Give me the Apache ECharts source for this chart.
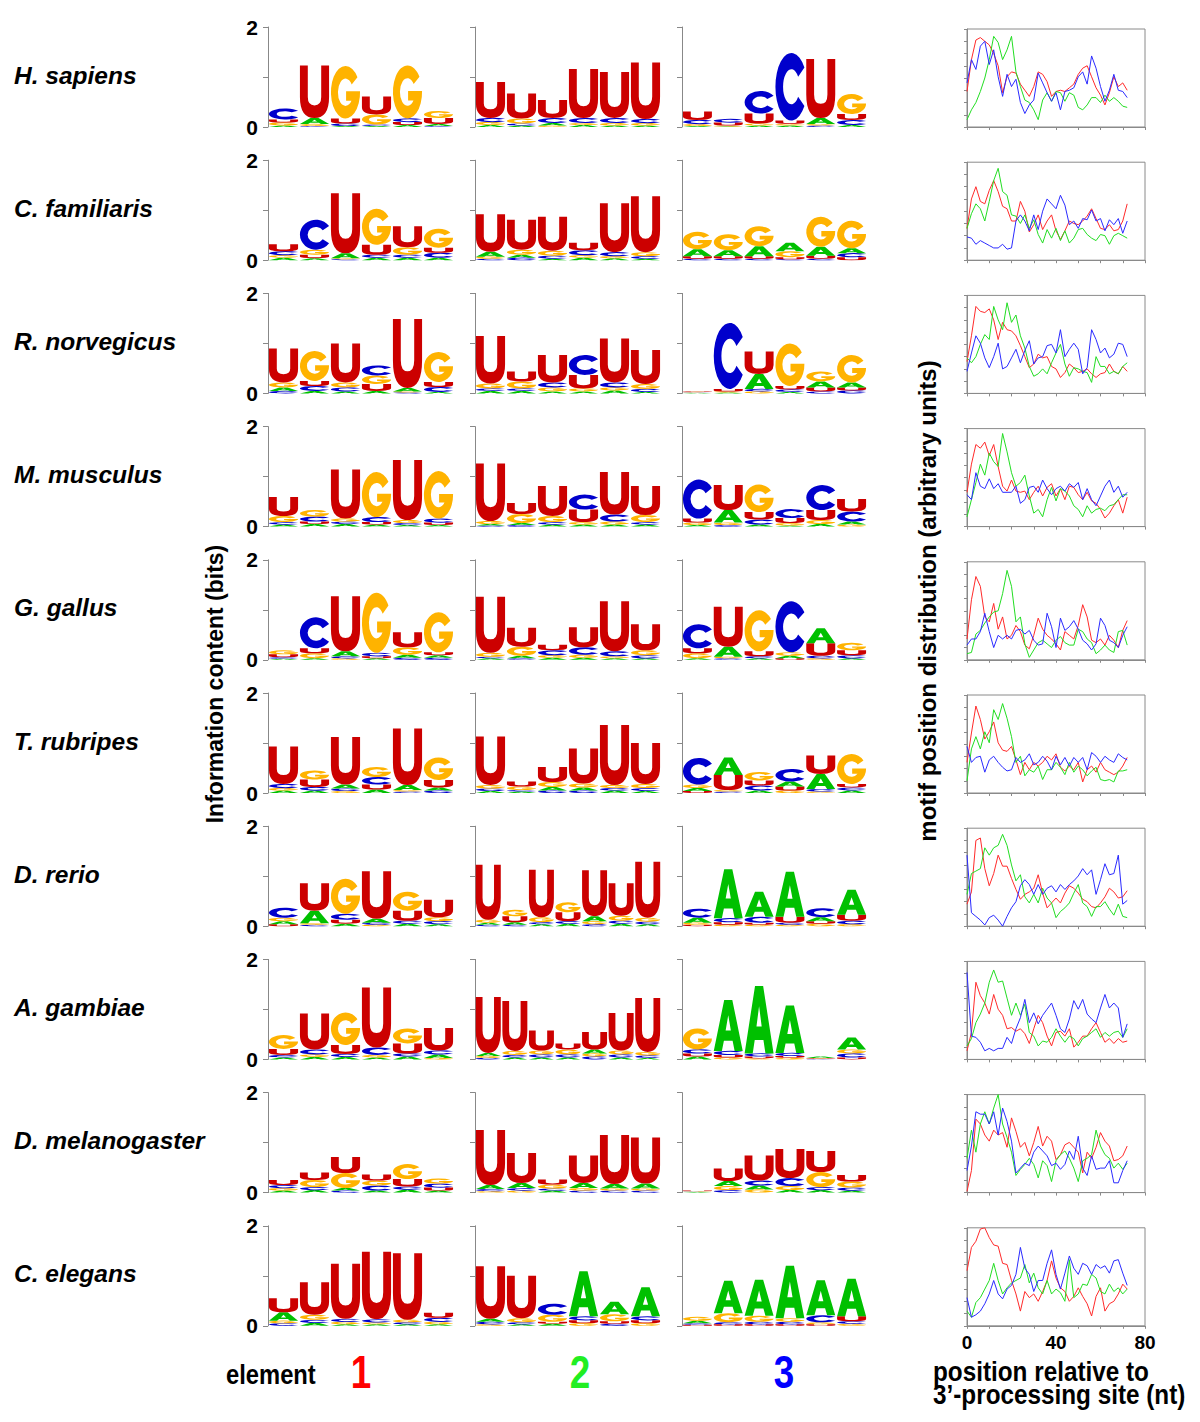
<!DOCTYPE html>
<html>
<head>
<meta charset="utf-8">
<script src="https://cdn.jsdelivr.net/npm/echarts@6/dist/echarts.min.js"></script>
<style>html,body{margin:0;padding:0;background:#fff}#chart{width:1200px;height:1422px}</style>
</head>
<body>
<div id="chart"></div>
<script>
// ---------------- DATA ----------------
const speciesNames = ['H. sapiens','C. familiaris','R. norvegicus','M. musculus','G. gallus','T. rubripes','D. rerio','A. gambiae','D. melanogaster','C. elegans'];
const letters = ['A','C','G','U'];
const elementLabels = ['1','2','3'];
const yTickLabels = ['0','2'];
const xTickLabels = ['0','40','80'];

// logo columns: each position = [A, C, G, U] information (bits)
const hsap1 = [[.03,.22,.06,.06],[.12,.02,.04,1.05],[.02,.05,1.05,.10],[.02,.03,.20,.36],[.04,.07,1.06,.06],[.04,.02,.14,.12]];
const hsap2 = [[.04,.08,.06,.72],[.03,.04,.10,.50],[.05,.10,.03,.36],[.04,.10,.04,.98],[.03,.10,.05,.92],[.03,.08,.05,1.13]];
const hsap3 = [[.02,.08,.04,.17],[.01,.07,.02,.06],[.03,.45,.04,.20],[.03,1.35,.03,.07],[.12,.03,.03,1.18],[.04,.10,.40,.12]];
const cfam1 = [[.05,.08,.05,.14],[.04,.60,.10,.07],[.10,.02,.02,1.20],[.05,.06,.72,.20],[.05,.06,.15,.42],[.05,.10,.38,.10]];
const cfam2 = [[.10,.03,.04,.75],[.06,.05,.10,.60],[.03,.06,.10,.68],[.05,.10,.05,.15],[.04,.08,.04,.98],[.03,.05,.08,1.12]];
const cfam3 = [[.14,.03,.35,.05],[.12,.03,.32,.05],[.20,.03,.40,.05],[.17,.02,.12,.04],[.18,.03,.60,.06],[.10,.08,.55,.06]];
const rnor1 = [[.07,.05,.10,.68],[.05,.10,.60,.10],[.04,.08,.10,.78],[.05,.20,.17,.14],[.07,.02,.02,1.38],[.03,.10,.60,.10]];
const rnor2 = [[.05,.05,.10,.95],[.05,.05,.14,.20],[.04,.10,.08,.55],[.04,.40,.06,.27],[.06,.10,.06,.88],[.03,.06,.10,.68]];
const rnor3 = [[.01,.01,.01,.01],[.02,1.32,.02,.05],[.30,.05,.04,.45],[.03,.05,.85,.07],[.12,.04,.20,.08],[.10,.06,.55,.06]];
const mmus1 = [[.04,.05,.12,.38],[.05,.10,.13,.05],[.05,.05,.06,.98],[.04,.10,.90,.05],[.03,.04,.06,1.20],[.03,.08,.95,.05]];
const mmus2 = [[.03,.02,.06,1.15],[.04,.03,.18,.22],[.04,.05,.12,.60],[.04,.30,.05,.25],[.04,.14,.06,.85],[.04,.05,.14,.58]];
const mmus3 = [[.03,.78,.05,.08],[.25,.03,.05,.50],[.04,.10,.55,.15],[.02,.18,.05,.10],[.05,.50,.08,.20],[.06,.20,.04,.25]];
const ggal1 = [[.02,.03,.08,.06],[.03,.62,.10,.10],[.10,.04,.03,1.10],[.03,.07,1.20,.04],[.06,.04,.15,.30],[.05,.04,.80,.06]];
const ggal2 = [[.03,.03,.08,1.12],[.05,.03,.18,.38],[.04,.10,.05,.11],[.04,.15,.06,.40],[.03,.10,.04,1.00],[.03,.06,.10,.52]];
const ggal3 = [[.03,.48,.10,.10],[.20,.03,.03,.80],[.03,.04,.82,.10],[.05,1.02,.07,.03],[.30,.05,.03,.25],[.03,.06,.15,.10]];
const trub1 = [[.05,.08,.05,.75],[.05,.07,.18,.15],[.08,.05,.04,.95],[.07,.15,.20,.10],[.10,.03,.03,1.13],[.06,.05,.45,.15]];
const trub2 = [[.04,.05,.07,.97],[.03,.03,.07,.10],[.07,.05,.10,.30],[.06,.05,.08,.70],[.05,.05,.06,1.20],[.04,.06,.08,.82]];
const trub3 = [[.06,.53,.07,.04],[.35,.03,.03,.30],[.05,.10,.17,.10],[.10,.25,.05,.08],[.30,.05,.03,.37],[.05,.06,.60,.07]];
const drer1 = [[.06,.20,.07,.04],[.25,.03,.03,.55],[.05,.12,.70,.08],[.08,.04,.03,.95],[.05,.06,.38,.20],[.04,.06,.08,.35]];
const drer2 = [[.04,.03,.06,1.10],[.05,.03,.13,.12],[.04,.04,.10,.95],[.05,.05,.20,.18],[.10,.04,.06,.92],[.05,.06,.10,.65],[.04,.05,.08,1.12]];
const drer3 = [[.10,.18,.04,.03],[.98,.08,.03,.05],[.50,.12,.03,.04],[.90,.04,.03,.12],[.08,.18,.05,.05],[.50,.07,.04,.12]];
const agam1 = [[.04,.05,.28,.12],[.05,.10,.05,.72],[.05,.06,.65,.18],[.04,.15,.05,1.20],[.06,.06,.30,.20],[.07,.08,.03,.45]];
const agam2 = [[.06,.03,.04,1.12],[.04,.05,.08,1.00],[.04,.06,.08,.40],[.04,.06,.10,.12],[.08,.06,.06,.35],[.04,.06,.08,.75],[.03,.05,.07,1.08]];
const agam3 = [[.06,.08,.42,.06],[1.02,.08,.04,.05],[1.35,.06,.02,.04],[.95,.06,.03,.04],[.03,.01,.01,.01],[.24,.08,.08,.04]];
const dmel1 = [[.04,.06,.05,.10],[.05,.06,.14,.15],[.05,.04,.30,.32],[.04,.10,.10,.12],[.06,.06,.30,.15],[.04,.08,.10,.06]];
const dmel2 = [[.08,.04,.03,1.10],[.10,.05,.04,.60],[.04,.04,.08,.10],[.10,.04,.05,.55],[.09,.04,.04,.98],[.10,.04,.04,.92]];
const dmel3 = [[.01,.01,.01,.01],[.10,.05,.08,.25],[.08,.10,.06,.50],[.05,.16,.08,.58],[.05,.06,.30,.42],[.04,.06,.12,.13]];
const cele1 = [[.17,.05,.05,.28],[.06,.06,.10,.65],[.03,.06,.05,1.10],[.03,.06,.04,1.35],[.03,.04,.05,1.33],[.03,.08,.05,.10]];
const cele2 = [[.06,.05,.03,1.05],[.03,.04,.08,.85],[.04,.22,.14,.04],[.90,.08,.05,.06],[.25,.04,.14,.05],[.58,.08,.05,.06]];
const cele3 = [[.05,.03,.08,.02],[.65,.04,.18,.03],[.72,.05,.12,.03],[1.05,.05,.07,.03],[.70,.14,.04,.03],[.75,.05,.04,.10]];

// motif position distributions (arbitrary units) at these positions (nt)
const positionsNt = [0,2,4,6,8,10,12,14,16,18,20,22,24,26,28,30,32,34,36,38,40,42,44,46,48,50,52,54,56,58,60,62,64,66,68,70,72];
const hsapRed   = [2.9,5.5,7.1,7.3,7.0,6.7,6.0,5.0,2.8,4.1,4.5,4.4,3.5,3.0,2.5,3.3,4.5,4.3,3.7,2.5,2.9,3.0,2.9,3.2,3.5,4.3,4.8,5.0,4.1,3.2,2.6,1.8,2.8,4.1,3.3,3.6,3.0];
const hsapGreen = [0.6,1.4,2.0,2.9,4.0,5.5,7.4,6.9,5.5,6.3,7.4,4.5,3.3,2.2,2.0,1.4,0.6,2.2,2.8,2.1,2.9,2.8,2.1,2.8,2.6,1.6,1.4,1.8,2.4,2.4,2.0,2.6,2.1,2.4,2.1,1.7,1.6];
const hsapBlue  = [3.6,5.5,4.7,6.6,7.0,5.1,6.3,4.1,2.5,4.3,3.3,3.9,2.0,1.1,1.8,2.2,4.4,3.6,2.8,2.1,2.8,1.4,2.9,3.0,3.2,4.1,4.5,3.5,5.8,4.8,3.3,2.1,3.0,4.3,3.0,2.9,2.4];
const cfamRed   = [2.6,5.0,6.0,4.8,4.6,5.7,6.5,5.6,4.4,4.2,3.2,3.2,4.8,4.0,2.3,2.9,3.7,2.5,3.2,3.7,2.4,1.7,2.4,3.2,3.0,2.9,3.2,3.6,4.2,3.4,2.6,2.5,2.9,2.4,2.5,3.2,4.6];
const cfamGreen = [2.6,3.8,4.6,4.2,3.2,4.8,6.5,7.5,5.6,5.3,3.7,3.6,3.0,3.7,2.6,3.3,2.1,1.4,2.5,1.8,2.6,1.6,2.4,1.4,1.8,2.5,2.6,2.1,1.8,1.6,2.1,2.0,1.3,2.0,2.2,2.0,1.8];
const cfamBlue  = [1.9,1.8,1.3,1.6,1.4,1.2,1.0,1.0,1.3,0.9,1.0,3.2,3.7,3.2,2.4,3.7,2.5,4.0,5.0,4.6,4.2,5.3,4.5,2.9,3.2,2.6,3.4,3.3,4.1,3.2,3.4,2.4,3.3,2.9,3.4,2.2,3.2];
const rnorRed   = [2.6,4.7,7.1,6.7,6.6,6.9,6.0,4.4,5.8,5.2,5.1,4.7,3.9,3.0,2.1,2.4,3.2,2.9,3.0,2.2,2.0,1.3,1.7,2.4,2.1,1.7,1.8,2.0,1.6,1.3,1.6,1.7,2.4,1.8,1.6,2.2,1.8];
const rnorGreen = [2.9,2.5,3.0,4.0,4.8,4.4,7.1,6.0,5.2,7.4,5.8,6.4,4.7,3.7,2.2,1.4,1.6,2.0,1.6,2.5,3.3,4.0,2.4,1.4,2.1,2.0,1.8,1.7,0.9,3.0,2.2,2.2,1.6,1.8,1.6,2.2,2.5];
const rnorBlue  = [1.8,3.3,4.7,4.1,2.9,2.1,3.0,4.1,2.0,2.2,2.9,3.6,2.5,3.5,4.3,2.4,2.9,3.0,3.9,4.0,3.3,5.2,3.0,3.6,4.1,3.6,1.6,2.1,5.2,4.4,3.3,3.7,2.9,3.2,4.1,4.0,3.0];
const mmusRed   = [2.8,5.1,6.7,6.4,6.9,5.8,6.7,4.9,3.3,2.9,3.8,2.9,2.8,2.9,2.2,2.8,3.3,2.5,3.2,3.5,2.5,3.1,2.2,3.3,3.2,2.6,2.2,2.8,2.1,1.9,1.4,0.7,1.1,1.7,2.2,1.1,2.4];
const mmusGreen = [0.8,2.2,3.6,5.1,4.2,6.0,5.3,4.9,7.6,6.1,4.4,3.3,3.6,4.2,2.5,1.1,1.4,0.8,2.2,3.2,2.1,3.1,2.9,2.5,1.7,1.4,0.8,1.7,1.1,1.4,1.5,1.3,1.7,1.8,2.2,2.6,2.6];
const mmusBlue  = [2.6,2.2,4.4,3.3,3.1,3.9,3.1,3.5,2.8,2.8,2.8,3.3,1.9,2.2,3.2,3.3,2.8,3.8,3.1,2.6,3.1,3.3,2.9,3.5,3.2,3.6,2.2,3.1,2.2,1.7,2.5,3.3,3.8,2.8,3.3,2.4,2.8];
const ggalRed   = [1.7,4.9,6.8,6.0,3.5,3.1,4.6,2.5,3.5,1.7,2.0,2.8,2.3,1.2,0.9,2.0,3.4,2.5,2.0,1.7,1.3,0.8,2.3,2.0,1.7,2.8,4.5,3.5,1.6,1.4,1.7,1.2,2.0,1.6,1.0,2.4,3.2];
const ggalGreen = [0.5,0.6,2.1,2.4,3.0,3.5,3.9,4.0,5.4,7.3,6.0,3.1,3.5,1.3,0.2,0.8,1.4,1.6,1.3,1.0,1.6,1.9,1.4,1.2,1.2,2.5,2.3,1.7,1.4,0.5,0.8,1.2,0.8,0.6,2.3,2.4,1.2];
const ggalBlue  = [1.2,1.7,1.7,2.3,3.8,2.3,1.0,2.0,1.7,2.0,1.7,2.4,2.5,2.1,2.4,1.6,1.2,1.3,3.8,2.7,1.0,3.4,2.4,2.7,3.2,2.5,1.6,1.3,0.8,1.3,3.4,2.8,1.6,1.4,1.0,2.0,2.7];
const trubRed   = [2.5,4.9,7.1,6.0,4.4,5.0,5.8,4.1,3.5,3.4,3.8,2.7,1.5,2.5,1.9,2.5,2.2,2.5,3.0,2.7,3.2,2.1,1.8,2.2,1.9,2.5,0.9,1.9,2.2,1.7,2.5,1.9,1.7,1.5,1.7,2.2,2.9];
const trubGreen = [1.0,3.6,4.6,3.6,5.0,4.1,6.8,6.0,7.3,6.1,4.6,2.5,3.0,1.4,1.9,1.7,2.2,1.1,1.9,1.9,2.5,2.1,1.5,2.5,1.7,2.2,1.9,1.4,1.8,2.1,1.1,1.0,1.1,0.9,1.8,1.8,1.9];
const trubBlue  = [3.8,2.5,2.9,3.0,1.7,2.7,3.0,2.5,2.1,1.8,1.9,2.9,2.5,2.7,3.2,2.3,2.5,3.0,2.6,1.9,3.0,2.3,2.9,2.2,2.9,2.5,2.9,1.9,3.3,3.0,2.5,3.0,2.7,2.5,3.2,2.9,2.7];
const drerRed   = [1.8,2.8,7.0,7.2,4.7,3.3,4.3,5.8,4.9,4.9,3.9,3.0,2.2,2.6,2.8,3.1,4.2,2.7,1.5,1.9,2.3,1.9,2.7,3.3,3.1,2.7,2.2,2.0,1.6,1.5,1.9,2.4,3.1,2.8,2.3,2.4,2.9];
const drerGreen = [2.6,4.3,4.5,4.7,6.4,5.8,6.4,6.6,7.5,6.6,5.0,3.7,4.2,2.4,1.9,2.6,1.9,3.1,2.3,1.9,0.7,1.2,1.5,1.9,2.7,3.4,1.9,1.6,0.8,1.6,1.6,2.0,1.4,0.9,1.8,0.8,0.7];
const drerBlue  = [5.8,1.1,0.8,0.5,0.1,0.7,0.9,0.5,0.0,0.8,1.5,2.0,3.3,3.8,3.4,2.6,3.4,2.6,3.1,3.3,2.8,3.4,3.0,3.4,3.7,4.1,4.7,4.2,4.6,2.6,3.8,5.1,4.2,4.3,5.8,1.8,2.1];
const agamRed   = [0.7,2.2,6.3,5.2,4.6,3.7,5.3,4.1,3.6,2.5,2.6,2.3,2.5,2.1,1.3,2.5,3.6,3.0,1.9,1.1,2.2,2.3,1.9,2.5,1.0,1.4,1.9,1.9,2.5,3.0,2.2,1.4,1.7,1.3,1.7,1.4,1.5];
const agamGreen = [1.1,1.7,3.0,3.7,4.6,6.3,7.3,6.3,6.4,5.0,3.6,4.6,3.6,4.5,2.2,1.9,1.1,1.5,1.4,1.8,2.5,1.9,1.4,1.9,1.7,1.1,1.7,1.9,2.2,2.5,1.8,2.2,1.9,2.2,2.3,1.8,2.5];
const agamBlue  = [7.1,1.9,1.8,1.4,0.7,0.9,0.7,0.9,0.9,1.8,1.3,2.5,3.4,4.9,3.0,3.8,2.9,3.6,4.1,4.6,3.6,2.5,2.2,3.3,4.8,4.1,4.9,3.7,3.3,3.0,4.2,5.3,4.2,4.6,4.2,1.8,2.9];
const dmelRed   = [0.1,1.8,6.0,5.6,4.7,4.2,5.1,4.7,4.9,3.7,6.1,5.0,3.7,4.1,3.0,4.1,5.4,3.8,4.6,4.2,2.7,3.1,3.9,4.1,3.7,3.3,1.6,3.3,2.8,3.7,4.9,4.2,3.8,2.6,2.7,3.0,3.8];
const dmelGreen = [2.8,5.1,3.3,5.6,6.6,5.6,6.9,8.0,5.6,4.5,3.3,1.4,1.9,2.3,2.8,2.3,1.2,2.6,2.2,0.9,2.6,3.1,3.4,2.8,2.0,0.9,2.6,2.8,3.1,5.1,3.8,3.1,2.8,2.0,2.4,1.9,2.4];
const dmelBlue  = [1.8,3.8,6.6,6.4,6.4,5.6,6.6,4.7,6.9,5.8,4.2,1.6,2.0,2.4,2.2,3.3,3.8,3.4,3.0,2.2,2.4,1.9,2.3,3.4,2.7,4.6,2.0,1.4,3.0,1.9,2.0,2.0,2.6,0.8,0.8,1.8,2.6];
const celeRed   = [4.5,6.4,6.9,7.9,8.0,7.2,6.6,6.5,5.1,5.0,3.7,2.6,1.2,2.8,2.3,2.6,2.0,2.8,3.7,5.3,3.9,3.1,2.8,2.0,2.4,3.1,2.4,1.8,0.8,2.4,3.1,1.2,1.8,2.0,2.6,3.4,3.0];
const celeGreen = [1.2,0.7,1.9,2.3,3.0,3.7,5.1,3.7,2.6,3.1,3.5,3.7,3.9,5.0,3.5,4.3,3.1,2.6,3.7,2.6,3.0,2.7,2.0,5.4,2.3,2.6,3.4,3.3,4.2,3.9,2.8,2.6,3.4,2.8,3.1,2.6,3.0];
const celeBlue  = [2.3,0.7,0.9,1.2,1.8,2.6,3.7,2.6,2.2,3.0,3.3,4.2,6.4,4.7,4.2,2.8,3.7,3.7,5.1,6.2,4.2,3.0,4.3,5.7,4.7,4.2,5.1,4.9,4.2,5.0,4.7,4.9,4.3,5.3,5.4,4.3,3.3];

const logoPanels = [
  [hsap1,hsap2,hsap3],[cfam1,cfam2,cfam3],[rnor1,rnor2,rnor3],[mmus1,mmus2,mmus3],[ggal1,ggal2,ggal3],
  [trub1,trub2,trub3],[drer1,drer2,drer3],[agam1,agam2,agam3],[dmel1,dmel2,dmel3],[cele1,cele2,cele3]
];
const redLines   = [hsapRed,cfamRed,rnorRed,mmusRed,ggalRed,trubRed,drerRed,agamRed,dmelRed,celeRed];
const greenLines = [hsapGreen,cfamGreen,rnorGreen,mmusGreen,ggalGreen,trubGreen,drerGreen,agamGreen,dmelGreen,celeGreen];
const blueLines  = [hsapBlue,cfamBlue,rnorBlue,mmusBlue,ggalBlue,trubBlue,drerBlue,agamBlue,dmelBlue,celeBlue];

// ---------------- STYLE ----------------
const LETTER_COLORS = {A:'#00c000', C:'#0000cc', G:'#ffb300', U:'#cc0000'};
const GLYPH = {
  A: 'M0,100 L36,0 L64,0 L100,100 L72,100 L65,80 L35,80 L28,100 Z M41,60 L59,60 L50,30 Z',
  C: 'M90.96,21.32 A50,50 0 1 0 90.96,78.68 L71.3,64.9 A26,26 0 1 1 71.3,35.1 Z',
  G: 'M90.96,21.32 A50,50 0 1 0 99.96,48 L52,48 L52,66 L70.5,66 A26,26 0 1 1 71.3,35.1 Z',
  U: 'M0,0 L27,0 L27,60 Q27,76 50,76 Q73,76 73,60 L73,0 L100,0 L100,60 Q100,100 50,100 Q0,100 0,60 Z'
};
const ARIAL = '"Liberation Sans",Arial,sans-serif';
const LINE_COLORS = ['#ff2a2a','#22dd22','#2a2aff'];
const colLeft = [268, 475, 682];
const colWidth = [186, 186, 185];
const rowTop0 = 27, rowStep = 133.2, panelH = 100;

function renderLogo(params, api) {
  const pos = api.value(0);
  const vals = [api.value(1), api.value(2), api.value(3), api.value(4)];
  const l = api.coord([pos - 0.5, 0]);
  const r = api.coord([pos + 0.5, 0]);
  const colW = r[0] - l[0];
  const w = colW * 0.94;
  const x0 = l[0] + (colW - w) / 2;
  const order = [0,1,2,3].sort((a, b) => vals[a] - vals[b]);
  let acc = 0;
  const children = [];
  for (const i of order) {
    const h = vals[i];
    if (!(h > 0)) continue;
    const yb = api.coord([pos, acc])[1];
    const yt = api.coord([pos, acc + h])[1];
    acc += h;
    if (yb - yt < 0.3) continue;
    children.push({
      type: 'path',
      shape: {pathData: GLYPH[letters[i]], x: x0, y: yt, width: w, height: yb - yt, layout: 'cover'},
      style: {fill: LETTER_COLORS[letters[i]], stroke: null}
    });
  }
  return {type: 'group', children};
}

const grids = [], xAxes = [], yAxes = [], series = [];
for (let r = 0; r < 10; r++) {
  const top = rowTop0 + rowStep * r;
  for (let c = 0; c < 3; c++) {
    const data = logoPanels[r][c];
    const n = data.length;
    const gi = grids.length;
    grids.push({left: colLeft[c], top: top, width: colWidth[c], height: panelH});
    xAxes.push({gridIndex: gi, type: 'value', min: 0.5, max: n + 0.5, show: false});
    yAxes.push({
      gridIndex: gi, type: 'value', min: 0, max: 2, interval: 1,
      axisLine: {show: true, lineStyle: {color: '#888', width: 1}},
      axisTick: {show: true, length: 5, lineStyle: {color: '#888'}},
      splitLine: {show: false},
      axisLabel: {
        show: c === 0, margin: 10, color: '#000', fontFamily: ARIAL, fontWeight: 'bold', fontSize: 21,
        formatter: v => (yTickLabels.indexOf(String(v)) >= 0 ? String(v) : '')
      }
    });
    series.push({
      type: 'custom', xAxisIndex: gi, yAxisIndex: gi, silent: true, clip: false,
      dimensions: ['pos','A','C','G','U'], encode: {x: 'pos', y: 'A'},
      renderItem: renderLogo,
      data: data.map((v, i) => [i + 1].concat(v))
    });
  }
  const gi = grids.length;
  grids.push({left: 967, top: top + 2, width: 178, height: 98, show: true, borderColor: '#8a8a8a', borderWidth: 1, backgroundColor: 'rgba(0,0,0,0)'});
  xAxes.push({
    gridIndex: gi, type: 'value', min: 0, max: 80, interval: 10,
    axisLine: {show: true, onZero: false, lineStyle: {color: '#8a8a8a'}},
    axisTick: {show: true, length: 3, lineStyle: {color: '#8a8a8a'}},
    splitLine: {show: false},
    axisLabel: {
      show: r === 9, margin: 7, color: '#000', fontFamily: ARIAL, fontWeight: 'bold', fontSize: 19,
      formatter: v => (xTickLabels.indexOf(String(v)) >= 0 ? String(v) : '')
    }
  });
  yAxes.push({
    gridIndex: gi, type: 'value', min: 0, max: 8, interval: 1,
    axisLine: {show: true, lineStyle: {color: '#8a8a8a'}},
    axisTick: {show: true, length: 3, lineStyle: {color: '#8a8a8a'}},
    splitLine: {show: false}, axisLabel: {show: false}
  });
  [redLines, greenLines, blueLines].forEach((set, k) => {
    series.push({
      type: 'line', xAxisIndex: gi, yAxisIndex: gi, silent: true, symbol: 'none', showSymbol: false,
      lineStyle: {width: 1, color: LINE_COLORS[k]},
      data: positionsNt.map((x, i) => [x, set[r][i]])
    });
  });
}

const graphics = [];
speciesNames.forEach((name, r) => {
  graphics.push({type: 'text', x: 14, y: 75 + rowStep * r, silent: true,
    style: {text: name, font: 'italic bold 24.5px ' + ARIAL, fill: '#000', align: 'left', verticalAlign: 'middle'}});
});
graphics.push({type: 'text', x: 215, y: 684, rotation: Math.PI / 2, silent: true,
  style: {text: 'Information content (bits)', font: 'bold 23px ' + ARIAL, fill: '#000', align: 'center', verticalAlign: 'middle'}});
graphics.push({type: 'text', x: 927, y: 601, rotation: Math.PI / 2, silent: true,
  style: {text: 'motif position distribution (arbitrary units)', font: 'bold 24px ' + ARIAL, fill: '#000', align: 'center', verticalAlign: 'middle'}});
graphics.push({type: 'text', x: 226, y: 1374, scaleX: 0.88, silent: true,
  style: {text: 'element', font: 'bold 27px ' + ARIAL, fill: '#000', align: 'left', verticalAlign: 'middle'}});
const elemColors = ['#ff0000', '#22ee22', '#0000ff'];
const elemX = [361, 580, 784];
elementLabels.forEach((t, i) => {
  graphics.push({type: 'text', x: elemX[i], y: 1372, scaleX: 0.8, silent: true,
    style: {text: t, font: 'bold 46px ' + ARIAL, fill: elemColors[i], align: 'center', verticalAlign: 'middle'}});
});
graphics.push({type: 'text', x: 933, y: 1372, scaleX: 0.9, silent: true,
  style: {text: 'position relative to', font: 'bold 27px ' + ARIAL, fill: '#000', align: 'left', verticalAlign: 'middle'}});
graphics.push({type: 'text', x: 933, y: 1395, scaleX: 0.9, silent: true,
  style: {text: '3\u2019-processing site (nt)', font: 'bold 27px ' + ARIAL, fill: '#000', align: 'left', verticalAlign: 'middle'}});

const chart = echarts.init(document.getElementById('chart'), null, {renderer: 'svg', width: 1200, height: 1422});
chart.setOption({
  backgroundColor: '#fff',
  animation: false,
  grid: grids,
  xAxis: xAxes,
  yAxis: yAxes,
  series: series,
  graphic: graphics
});
</script>
</body>
</html>
